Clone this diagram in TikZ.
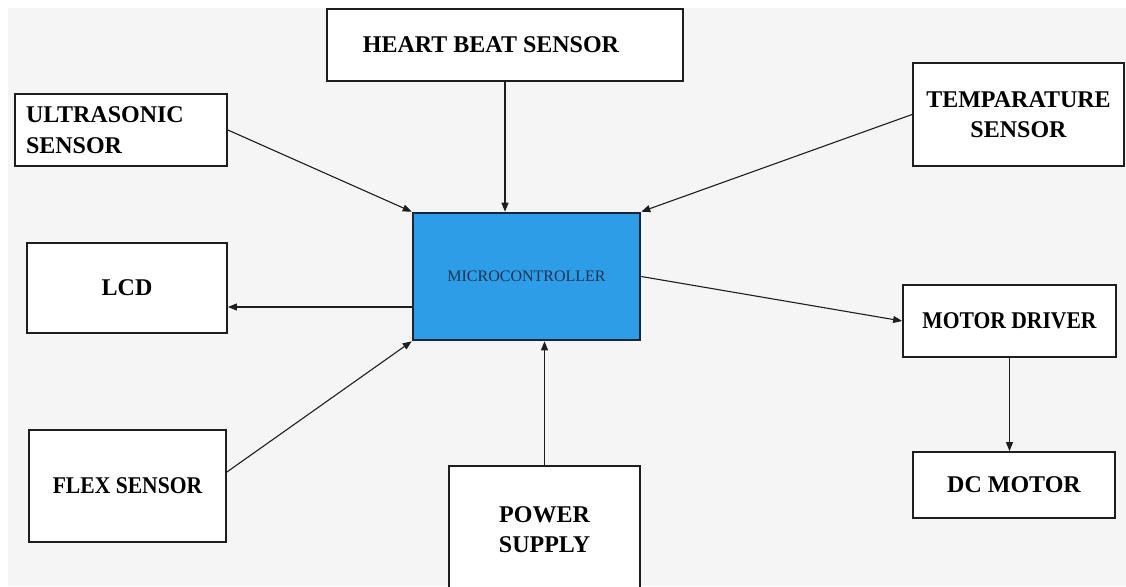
\documentclass[tikz,border=0pt]{standalone}
\usepackage{fontspec}
\usepackage{graphicx}
\setmainfont{Liberation Serif}
\usetikzlibrary{arrows.meta,calc}
\definecolor{bggray}{HTML}{F5F5F5}
\definecolor{mcblue}{HTML}{2E9DE8}
\definecolor{mcedge}{HTML}{16263A}
\definecolor{mctext}{HTML}{1B3350}
\definecolor{lineclr}{HTML}{1E1E1E}
\newcommand{\narrowtxt}[1]{\scalebox{0.9}[1]{#1}}
\begin{document}
\begin{tikzpicture}[x=1pt,y=-1pt,
  blk/.style={draw=lineclr, line width=1.8pt, fill=white, inner sep=0pt,
    font=\fontsize{24}{30}\selectfont\bfseries, align=center},
  arr/.style={draw=lineclr, line width=1.1pt, -{Triangle[length=9pt,width=7pt]}}]
\useasboundingbox (0,0) rectangle (1126,586);
\clip (0,0) rectangle (1126,586);
\fill[white] (0,0) rectangle (1126,586);
\fill[bggray] (8,8) rectangle (1126,586);

% blocks
\node[blk, minimum width=356pt, minimum height=72pt] (hb) at (505,45)
  {\hspace*{-28pt}HEART BEAT SENSOR};
\node[blk, text width=190pt, inner xsep=11pt, minimum height=72pt, align=left,
  font=\fontsize{24}{31}\selectfont\bfseries] (us) at (121,130) {ULTRASONIC\\SENSOR};
\node[blk, minimum width=211pt, minimum height=103pt] (tmp) at (1018.5,114.5)
  {TEMPARATURE\\SENSOR};
\node[blk, minimum width=200pt, minimum height=90pt] (lcd) at (127,288) {LCD};
\node[blk, minimum width=197pt, minimum height=112pt] (flex) at (127.5,486)
  {\narrowtxt{FLEX SENSOR}};
\node[blk, minimum width=191pt, minimum height=128pt] (ps) at (544.5,530)
  {POWER\\SUPPLY};
\node[blk, minimum width=213pt, minimum height=72pt] (md) at (1009.5,321)
  {\narrowtxt{MOTOR DRIVER}};
\node[blk, minimum width=202pt, minimum height=66pt] (dc) at (1014,485) {DC MOTOR};

\node[draw=mcedge, line width=2.6pt, fill=mcblue, inner sep=0pt,
  minimum width=227pt, minimum height=127pt, text=mctext,
  font=\fontsize{16}{18}\selectfont] (mc) at (526.5,276.5) {MICROCONTROLLER};

% connectors
\coordinate (lcdA) at ([yshift=-19pt]lcd.east);
\coordinate (flexA) at ([yshift=14pt]flex.east);
\draw[arr] (us.east) -- (mc.north west);
\draw[arr] (hb.south) -- (hb.south |- mc.north);
\draw[arr] (tmp.west) -- (mc.north east);
\draw[arr] (mc.west |- lcdA) -- (lcdA);
\draw[arr] (flexA) -- (mc.south west);
\draw[arr] (ps.north) -- (ps.north |- mc.south);
\draw[arr] (mc.east) -- (md.west);
\draw[arr] (md.south) -- (md.south |- dc.north);
\end{tikzpicture}
\end{document}
